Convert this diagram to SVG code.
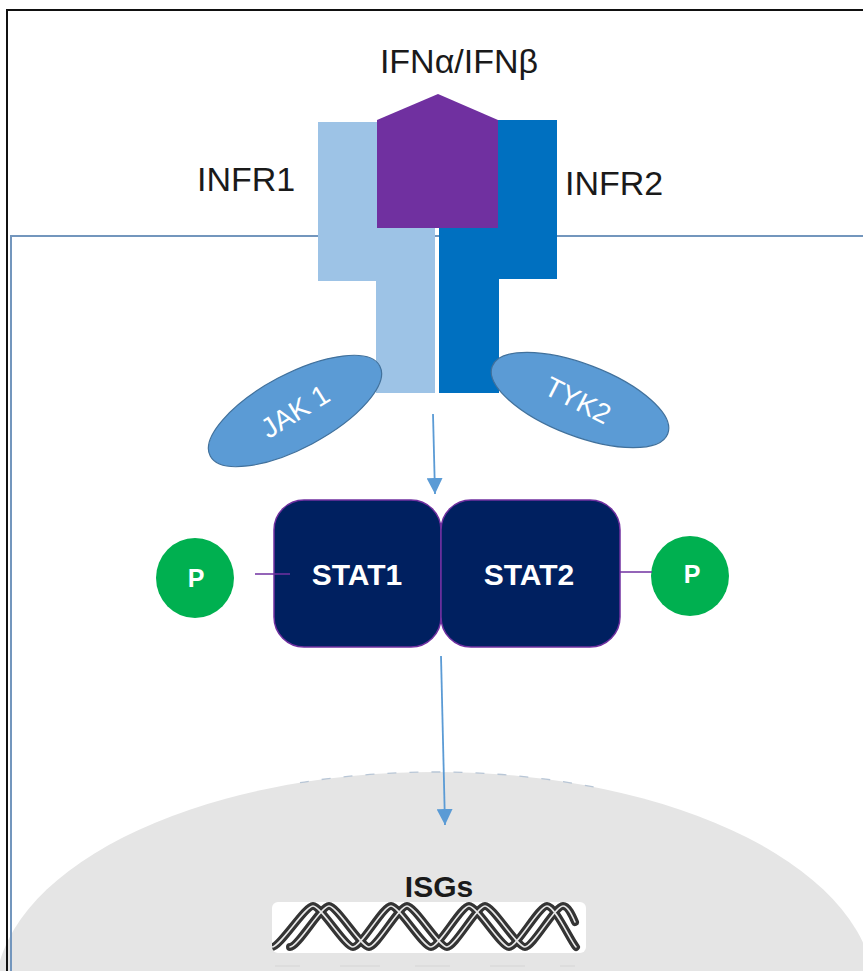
<svg xmlns="http://www.w3.org/2000/svg" width="863" height="971" viewBox="0 0 863 971">
  <defs>
    <style>
      .lbl{font-family:"Liberation Sans",Arial,sans-serif;fill:#1a1a1a}
      .wt{font-family:"Liberation Sans",Arial,sans-serif;fill:#ffffff;text-anchor:middle}
      .bold{font-weight:bold}
      .kinase{fill:#5b9bd5;stroke:#41719c;stroke-width:1.2}
      .stat{fill:#002060;stroke:#7030a0;stroke-width:1.5}
      .phos{fill:#00b050}
      .link{stroke:#7030a0;stroke-width:1.5;fill:none}
      .flow{stroke:#5b9bd5;stroke-width:1.8;fill:none;marker-end:url(#head)}
      .strand{fill:none;stroke:#343434;stroke-width:8;stroke-linecap:round}
      .shine{fill:none;stroke:#e8e8e8;stroke-width:1.6;stroke-linecap:round}
    </style>
    <marker id="head" viewBox="0 0 10 10" refX="10" refY="5" markerWidth="16" markerHeight="16" markerUnits="userSpaceOnUse" orient="auto">
      <path d="M0,0 L10,5 L0,10 z" fill="#5b9bd5"/>
    </marker>
    <clipPath id="dnaClip">
      <rect x="272" y="902" width="314" height="51" rx="6"/>
    </clipPath>
  </defs>

  <!-- page background -->
  <rect width="863" height="971" fill="#ffffff"/>

  <!-- nucleus -->
  <g id="nucleus">
    <ellipse cx="435" cy="994" rx="440" ry="222" fill="#e5e5e5"/>
    <path d="M300,782.7 A440,222 0 0,1 600,788.2" fill="none" stroke="#b8c6d6" stroke-width="1.3" stroke-dasharray="9 13"/>
    <g opacity="0.25" stroke="#c9c9c9" stroke-width="2">
      <line x1="275" y1="966" x2="300" y2="966"/>
      <line x1="340" y1="966" x2="380" y2="966"/>
      <line x1="415" y1="966" x2="450" y2="966"/>
      <line x1="490" y1="966" x2="525" y2="966"/>
      <line x1="560" y1="966" x2="575" y2="966"/>
    </g>
  </g>

  <!-- outer frame and cell membrane -->
  <path d="M7,972 V10 H864" fill="none" stroke="#111111" stroke-width="2"/>
  <path d="M11,972 V236 H864" fill="none" stroke="#7396bd" stroke-width="2"/>

  <!-- interferon receptor subunits -->
  <g id="infr1">
    <path d="M318,122 H435 V393 H376 V281 H318 Z" fill="#9dc3e6"/>
    <text class="lbl" x="197" y="191" font-size="34">INFR1</text>
  </g>
  <g id="infr2">
    <path d="M439,120 H557 V279 H499 V393 H439 Z" fill="#0070c0"/>
    <text class="lbl" x="565" y="195" font-size="34">INFR2</text>
  </g>

  <!-- ligand -->
  <g id="ifn">
    <path d="M377,120 L438,94 L498,120 V228 H377 Z" fill="#7030a0"/>
    <text class="lbl" x="459" y="73" font-size="34" text-anchor="middle">IFNα/IFNβ</text>
  </g>

  <!-- kinases -->
  <g id="jak1">
    <ellipse class="kinase" cx="295" cy="411" rx="96" ry="37" transform="rotate(-28 295 411)"/>
    <text class="wt" x="295" y="421" font-size="28" transform="rotate(-32 295 411)">JAK 1</text>
  </g>
  <g id="tyk2">
    <ellipse class="kinase" cx="580" cy="400" rx="94" ry="36" transform="rotate(21 580 400)"/>
    <text class="wt" x="578" y="410" font-size="28" transform="rotate(27 578 400)">TYK2</text>
  </g>

  <!-- STAT dimer -->
  <g id="stat1">
    <rect class="stat" x="274" y="500" width="167" height="147" rx="30"/>
    <text class="wt bold" x="357" y="585" font-size="30">STAT1</text>
  </g>
  <g id="stat2">
    <rect class="stat" x="441" y="500" width="179" height="147" rx="30"/>
    <text class="wt bold" x="529" y="585" font-size="30">STAT2</text>
  </g>

  <!-- phosphate groups -->
  <g id="p1">
    <ellipse class="phos" cx="195" cy="578" rx="39" ry="40"/>
    <text class="wt bold" x="196" y="587" font-size="25">P</text>
  </g>
  <g id="p2">
    <ellipse class="phos" cx="690" cy="576" rx="39" ry="40"/>
    <text class="wt bold" x="692" y="583" font-size="25">P</text>
  </g>

  <!-- interferon-stimulated genes -->
  <g id="isgs">
    <rect x="272" y="902" width="314" height="51" rx="6" fill="#ffffff"/>
    <g clip-path="url(#dnaClip)">
      <path class="strand" d="M272,947 C280,947 305,906 313,906 C321,906 345,947 353,947 C361,947 383,906 391,906 C399,906 423,947 431,947 C439,947 461,906 469,906 C477,906 501,947 509,947 C517,947 539,906 547,906 C555,906 570,940 576,947"/>
      <path class="strand" d="M290,947 C298,947 321,906 329,906 C337,906 361,947 369,947 C377,947 399,906 407,906 C415,906 439,947 447,947 C455,947 477,906 485,906 C493,906 517,947 525,947 C533,947 555,906 563,906 C568,906 572,915 575,922"/>
      <path class="shine" d="M272,947 C280,947 305,906 313,906 C321,906 345,947 353,947 C361,947 383,906 391,906 C399,906 423,947 431,947 C439,947 461,906 469,906 C477,906 501,947 509,947 C517,947 539,906 547,906 C555,906 570,940 576,947"/>
      <path class="shine" d="M290,947 C298,947 321,906 329,906 C337,906 361,947 369,947 C377,947 399,906 407,906 C415,906 439,947 447,947 C455,947 477,906 485,906 C493,906 517,947 525,947 C533,947 555,906 563,906 C568,906 572,915 575,922"/>
    </g>
    <text class="lbl bold" x="439" y="897" font-size="30" text-anchor="middle" fill="#111">ISGs</text>
  </g>

  <!-- connectors -->
  <g id="connectors">
    <line class="link" x1="255" y1="574" x2="290" y2="574"/>
    <line class="link" x1="620" y1="572" x2="652" y2="572"/>
    <line class="flow" x1="433" y1="414" x2="435" y2="494"/>
    <line class="flow" x1="441" y1="656" x2="445" y2="825"/>
  </g>
</svg>
